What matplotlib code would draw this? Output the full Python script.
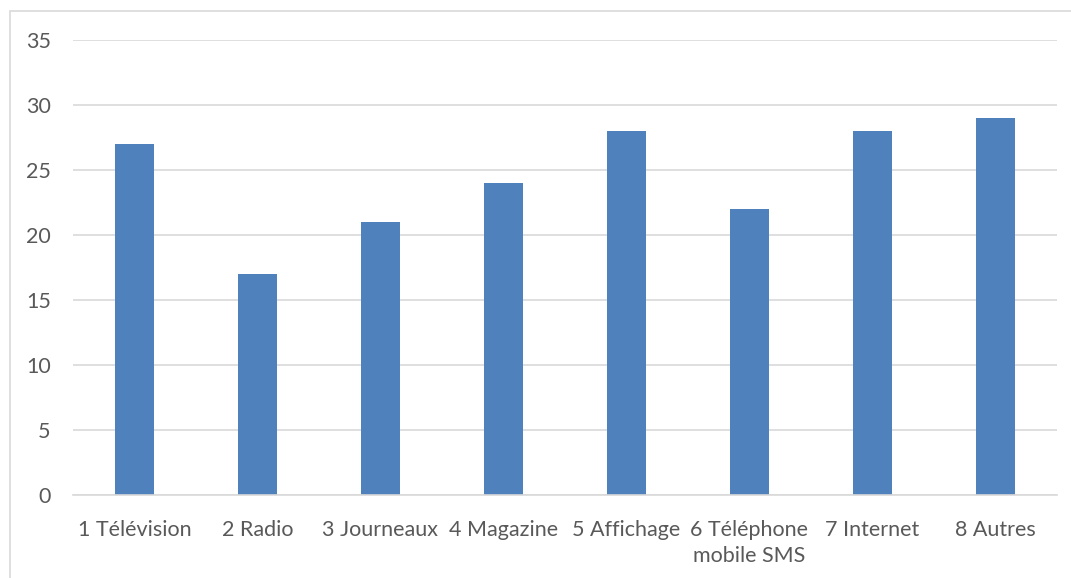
import matplotlib.pyplot as plt
from matplotlib.patches import Rectangle

categories = ['1 Télévision', '2 Radio', '3 Journeaux', '4 Magazine', '5 Affichage',
              '6 Téléphone\nmobile SMS', '7 Internet', '8 Autres']
values = [27, 17, 21, 24, 28, 22, 28, 29]
yticks = [0, 5, 10, 15, 20, 25, 30, 35]

W, H = 1071, 578
fig = plt.figure(figsize=(W / 100, H / 100), dpi=100)
ax = fig.add_axes([73 / W, 1 - 495 / H, (1057 - 73) / W, (495 - 40) / H])

ax.bar(range(len(values)), values, width=0.31, color='#4F81BD', zorder=3)
ax.set_xlim(-0.5, len(values) - 0.5)
ax.set_ylim(0, 35)
ax.set_yticks(yticks)
ax.set_xticks(range(len(categories)))
ax.set_xticklabels(categories, fontsize=15.5, color='#595959', family='Lato', linespacing=1.35)
for lab in ax.get_yticklabels():
    lab.set_fontsize(15.5)
    lab.set_color('#595959')
    lab.set_family('Lato')
ax.tick_params(length=0)
ax.tick_params(axis='y', pad=16)
ax.tick_params(axis='x', pad=18)
ax.grid(axis='y', color='#D9D9D9', linewidth=1.2, zorder=0)
for s in ['top', 'right', 'left']:
    ax.spines[s].set_visible(False)
ax.spines['bottom'].set_color('#D9D9D9')
ax.spines['bottom'].set_linewidth(1.2)
ax.spines['bottom'].set_zorder(4)

fig.patches.append(Rectangle((10 / W, -0.1), 1.2, 1 - 11 / H + 0.1, transform=fig.transFigure,
                             fill=False, edgecolor='#D9D9D9', linewidth=1.2))

fig.savefig('out.png', dpi=100)
